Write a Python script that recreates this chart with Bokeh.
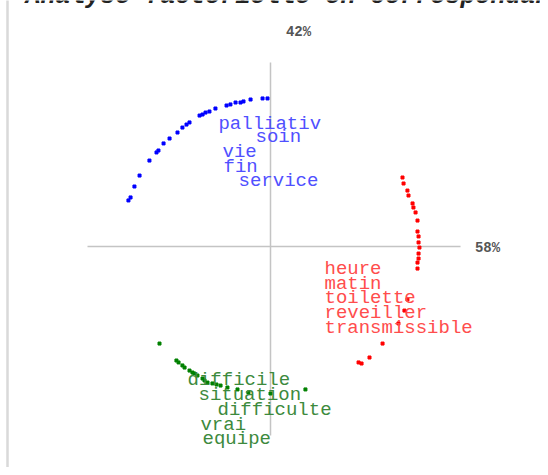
from bokeh.plotting import figure
from bokeh.models import ColumnDataSource, Range1d
from bokeh.core.properties import value
from bokeh.embed import file_html
from bokeh.resources import INLINE

TITLE = "Analyse factorielle en correspondance"
AXIS1_LABEL = "58%"
AXIS2_LABEL = "42%"

# --- point clouds (factor coordinates) ---
blue_x = [-0.947, -0.933, -0.907, -0.873, -0.807, -0.760, -0.747, -0.713, -0.673, -0.620,
          -0.587, -0.560, -0.540, -0.473, -0.453, -0.433, -0.407, -0.367, -0.293, -0.267,
          -0.233, -0.200, -0.180, -0.133, -0.053, -0.020]
blue_y = [0.307, 0.327, 0.400, 0.473, 0.573, 0.627, 0.640, 0.687, 0.720, 0.760,
          0.793, 0.813, 0.827, 0.873, 0.880, 0.893, 0.900, 0.920, 0.940, 0.947,
          0.960, 0.960, 0.967, 0.980, 0.987, 0.987]

red_x = [0.880, 0.887, 0.913, 0.920, 0.947, 0.953, 0.967, 0.980, 0.980, 0.987, 0.987, 0.993,
         0.987, 0.987, 0.980, 0.980, 0.913, 0.893, 0.853, 0.747, 0.660, 0.607, 0.587]
red_y = [0.460, 0.420, 0.373, 0.340, 0.287, 0.260, 0.227, 0.173, 0.100, 0.067, 0.027, -0.007,
         -0.047, -0.080, -0.107, -0.147, -0.353, -0.427, -0.513, -0.647, -0.740, -0.780, -0.773]

green_x = [-0.740, -0.627, -0.613, -0.587, -0.573, -0.540, -0.520, -0.507, -0.487, -0.453,
           -0.440, -0.420, -0.387, -0.360, -0.333, -0.287, -0.220, -0.147, 0.000, 0.233]
green_y = [-0.647, -0.760, -0.773, -0.793, -0.807, -0.827, -0.840, -0.847, -0.860, -0.880,
           -0.893, -0.907, -0.913, -0.920, -0.927, -0.940, -0.953, -0.973, -0.980, -0.953]

# --- word labels ---
blue_words = ["palliativ", "soin", "vie", "fin", "service"]
blue_wx = [-0.347, -0.100, -0.320, -0.313, -0.213]
blue_wy = [0.820, 0.727, 0.627, 0.533, 0.440]

red_words = ["heure", "matin", "toilette", "reveiller", "transmissible"]
red_wx = [0.360, 0.360, 0.360, 0.360, 0.360]
red_wy = [-0.147, -0.247, -0.340, -0.440, -0.540]

green_words = ["difficile", "situation", "difficulte", "vrai", "equipe"]
green_wx = [-0.553, -0.480, -0.353, -0.467, -0.453]
green_wy = [-0.893, -0.987, -1.087, -1.187, -1.280]

# axis extents (factor units)
H_AXIS = (-1.22, 1.267)
V_AXIS = (-1.26, 1.227)

# --- layout ---
W, H = 540, 467
SCALE = 150.0
OX, OY = 270, 246  # origin in canvas pixels

p = figure(width=W, height=H, output_backend="svg", toolbar_location=None,
           x_range=Range1d(-OX / SCALE, (W - OX) / SCALE),
           y_range=Range1d(-(H - OY) / SCALE, OY / SCALE),
           min_border=0, min_border_left=0, min_border_right=0,
           min_border_top=0, min_border_bottom=0)
p.axis.visible = False
p.grid.visible = False
p.outline_line_color = None
p.background_fill_color = "white"
p.border_fill_color = "white"

# left page border
bx = (7 - OX) / SCALE
p.segment(x0=[bx], y0=[-(H - OY) / SCALE], x1=[bx], y1=[OY / SCALE + 0.1],
          line_color="#d9d9d9", line_width=2.5)

# axes
p.segment(x0=[H_AXIS[0], 0], y0=[0, V_AXIS[0]], x1=[H_AXIS[1], 0], y1=[0, V_AXIS[1]],
          line_color="#c4c4c4", line_width=1.5)

mono = value("Liberation Mono")

# title (mostly cut off at the top)
p.text(x=[(25 - OX) / SCALE], y=[(OY + 4) / SCALE], text=[TITLE], text_font=mono,
       text_font_size="25px", text_font_style="bold italic", text_color="#222222",
       text_baseline="alphabetic", text_align="left")

p.text(x=[(298 - OX) / SCALE], y=[(OY - 31) / SCALE], text=[AXIS2_LABEL], text_font=mono,
       text_font_size="14px", text_font_style="bold", text_color="#555555",
       text_baseline="middle", text_align="center")
p.text(x=[(487 - OX) / SCALE], y=[(OY - 247) / SCALE], text=[AXIS1_LABEL], text_font=mono,
       text_font_size="14px", text_font_style="bold", text_color="#555555",
       text_baseline="middle", text_align="center")

for xs, ys, col in [(blue_x, blue_y, "#0000ff"), (red_x, red_y, "#ff0000"), (green_x, green_y, "#008000")]:
    p.scatter(x=xs, y=ys, marker="square", size=3, fill_color=col, line_color=col)

for words, wx, wy, col in [(blue_words, blue_wx, blue_wy, "#5050ff"),
                           (red_words, red_wx, red_wy, "#ff4d4d"),
                           (green_words, green_wx, green_wy, "#3d8a3d")]:
    src = ColumnDataSource(dict(x=wx, y=wy, t=words))
    p.text(x="x", y="y", text="t", source=src, text_font=mono, text_font_size="19px",
           text_color=col, text_baseline="middle", text_align="left")

open("out.html", "w").write(file_html(p, INLINE))
